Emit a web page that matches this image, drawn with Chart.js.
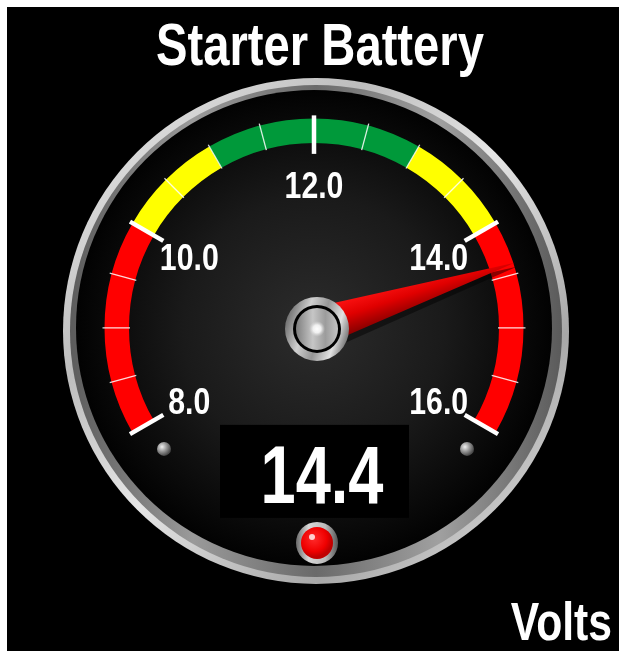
<!DOCTYPE html>
<html>
<head>
<meta charset="utf-8">
<title>Starter Battery</title>
<script src="https://cdn.jsdelivr.net/npm/chart.js@4.4.1/dist/chart.umd.min.js"></script>
<style>
  html, body { margin: 0; padding: 0; background: #fff; }
  #gauge { display: block; }
</style>
</head>
<body>
<canvas id="gauge" width="619" height="651"></canvas>
<script>
// gauge content
const gaugeTitle = 'Starter Battery';
const unitLabel = 'Volts';
const zoneLimits = [8, 10, 11, 13, 14, 16];
const zoneColors = ['#ff0000', '#ffff00', '#00993a', '#ffff00', '#ff0000'];
const majorTicks = [8, 10, 12, 14, 16];
const tickLabels = ['8.0', '10.0', '12.0', '14.0', '16.0'];
const minorTicks = [8.5, 9, 9.5, 10.5, 11, 11.5, 12.5, 13, 13.5, 14.5, 15, 15.5];
const reading = 14.4;

const zoneSizes = zoneLimits.slice(1).map((v, i) => v - zoneLimits[i]);
const FONT = '"Liberation Sans", Arial, sans-serif';

// angle (canvas radians) of a value along the coloured band
function valueAngle(chart, v) {
    const arcs = chart.getDatasetMeta(0).data;
    const a0 = arcs[0].startAngle;
    const a1 = arcs[arcs.length - 1].endAngle;
    const lo = zoneLimits[0];
    const hi = zoneLimits[zoneLimits.length - 1];
    return a0 + (v - lo) / (hi - lo) * (a1 - a0);
}

function gaugeCenter(chart) {
    const arc = chart.getDatasetMeta(0).data[0];
    return { x: arc.x, y: arc.y, r: arc.outerRadius, ir: arc.innerRadius };
}

// white, squeezed text
function narrowText(ctx, text, x, y, size, sx, align) {
    ctx.save();
    ctx.translate(x, y);
    ctx.scale(sx, 1);
    ctx.font = 'bold ' + size + 'px ' + FONT;
    ctx.textAlign = align || 'center';
    ctx.textBaseline = 'alphabetic';
    ctx.fillStyle = '#fff';
    ctx.fillText(text, 0, 0);
    ctx.restore();
}

function disc(ctx, x, y, r, fill) {
    ctx.beginPath();
    ctx.arc(x, y, r, 0, Math.PI * 2);
    ctx.fillStyle = fill;
    ctx.fill();
}

function radial(ctx, x, y, r, stops) {
    const g = ctx.createRadialGradient(x, y, 0, x, y, r);
    stops.forEach(s => g.addColorStop(s[0], s[1]));
    return g;
}

function linear(ctx, x0, y0, x1, y1, stops) {
    const g = ctx.createLinearGradient(x0, y0, x1, y1);
    stops.forEach(s => g.addColorStop(s[0], s[1]));
    return g;
}

// background, title and unit
const backdrop = {
    id: 'backdrop',
    beforeDraw(chart) {
        const ctx = chart.ctx;
        ctx.save();
        ctx.fillStyle = '#fff';
        ctx.fillRect(0, 0, chart.width, chart.height);
        ctx.fillStyle = '#000';
        ctx.fillRect(7, 7, chart.width - 7, chart.height - 7);
        ctx.restore();
        narrowText(ctx, gaugeTitle, 320, 65, 59, 0.8);
        narrowText(ctx, unitLabel, 612, 640, 54, 0.79, 'right');
    }
};

// chrome bezel and dial face under the band
const dialFace = {
    id: 'dialFace',
    beforeDatasetsDraw(chart) {
        const ctx = chart.ctx;
        const c = gaugeCenter(chart);
        const bx = c.x + 2, by = c.y + 3;
        ctx.save();
        disc(ctx, bx, by, 253, linear(ctx, bx - 253, by - 253, bx + 253, by + 253,
            [[0, '#f2f2f2'], [0.3, '#bdbdbd'], [0.5, '#e6e6e6'], [0.75, '#a8a8a8'], [1, '#eeeeee']]));
        disc(ctx, bx, by, 246, linear(ctx, bx - 246, by, bx + 246, by,
            [[0, '#5c5c5c'], [0.25, '#9a9a9a'], [0.5, '#6a6a6a'], [0.75, '#a0a0a0'], [1, '#5a5a5a']]));
        disc(ctx, c.x, c.y, 238, radial(ctx, c.x, c.y, 238,
            [[0, '#2c2c2c'], [0.55, '#1a1a1a'], [1, '#020202']]));
        ctx.restore();
    }
};

// ticks, labels, readout, needle and hub over the band
const dialParts = {
    id: 'dialParts',
    afterDatasetsDraw(chart) {
        const ctx = chart.ctx;
        const c = gaugeCenter(chart);
        ctx.save();

        // minor ticks
        ctx.strokeStyle = 'rgba(255,255,255,0.85)';
        ctx.lineWidth = 1.3;
        minorTicks.forEach(v => {
            const a = valueAngle(chart, v);
            ctx.beginPath();
            ctx.moveTo(c.x + Math.cos(a) * (c.ir - 1), c.y + Math.sin(a) * (c.ir - 1));
            ctx.lineTo(c.x + Math.cos(a) * (c.r + 2), c.y + Math.sin(a) * (c.r + 2));
            ctx.stroke();
        });

        // major ticks and their labels
        ctx.strokeStyle = '#fff';
        ctx.lineWidth = 4.5;
        majorTicks.forEach((v, i) => {
            const a = valueAngle(chart, v);
            ctx.beginPath();
            ctx.moveTo(c.x + Math.cos(a) * (c.ir - 11), c.y + Math.sin(a) * (c.ir - 11));
            ctx.lineTo(c.x + Math.cos(a) * (c.r + 3), c.y + Math.sin(a) * (c.r + 3));
            ctx.stroke();
            const lx = c.x + Math.cos(a) * 144;
            const ly = c.y + Math.sin(a) * 144;
            narrowText(ctx, tickLabels[i], lx, ly + 14, 36, 0.84);
        });

        // mounting screws
        [[-150, 121], [153, 121]].forEach(p => {
            const sx = c.x + p[0], sy = c.y + p[1];
            disc(ctx, sx, sy, 7, radial(ctx, sx - 2, sy - 2, 9,
                [[0, '#f0f0f0'], [0.5, '#9a9a9a'], [1, '#4a4a4a']]));
        });

        // digital readout
        ctx.fillStyle = '#000';
        ctx.fillRect(c.x - 94, c.y + 97, 189, 93);
        narrowText(ctx, reading.toFixed(1), c.x + 8, c.y + 175, 81, 0.78);

        // warning lamp
        const lx = c.x + 3, ly = c.y + 215;
        disc(ctx, lx, ly, 21, linear(ctx, lx - 21, ly, lx + 21, ly,
            [[0, '#6a6a6a'], [0.3, '#d8d8d8'], [0.7, '#bbbbbb'], [1, '#555555']]));
        disc(ctx, lx, ly, 16, radial(ctx, lx - 3, ly - 4, 18,
            [[0, '#ff2a2a'], [0.7, '#f00000'], [1, '#c00000']]));
        disc(ctx, lx - 5, ly - 6, 3, 'rgba(255,255,255,0.8)');

        // needle
        const na = valueAngle(chart, reading);
        const tipR = 211, half = 20;
        const px = -Math.sin(na), py = Math.cos(na);
        const tx = c.x + Math.cos(na) * tipR, ty = c.y + Math.sin(na) * tipR;
        ctx.beginPath();
        ctx.moveTo(c.x + px * (half + 2) + 2, c.y + py * (half + 2) + 4);
        ctx.lineTo(tx + 2, ty + 4);
        ctx.lineTo(c.x - px * half + 2, c.y - py * half + 4);
        ctx.closePath();
        ctx.fillStyle = 'rgba(0,0,0,0.45)';
        ctx.fill();
        ctx.beginPath();
        ctx.moveTo(c.x + px * half, c.y + py * half);
        ctx.lineTo(tx, ty);
        ctx.lineTo(c.x - px * half, c.y - py * half);
        ctx.closePath();
        ctx.fillStyle = linear(ctx, c.x - px * half, c.y - py * half, c.x + px * half, c.y + py * half,
            [[0, '#ff1414'], [0.45, '#e00000'], [1, '#7a0000']]);
        ctx.fill();

        // hub
        const hx = c.x + 3, hy = c.y + 1;
        disc(ctx, hx, hy, 32, linear(ctx, hx - 32, hy - 10, hx + 32, hy + 10,
            [[0, '#6a6a6a'], [0.3, '#d0d0d0'], [0.55, '#959595'], [0.8, '#e2e2e2'], [1, '#6a6a6a']]));
        disc(ctx, hx, hy, 24, '#000');
        disc(ctx, hx, hy, 21, linear(ctx, hx - 21, hy, hx + 21, hy,
            [[0, '#7e7e7e'], [0.4, '#c6c6c6'], [0.7, '#9c9c9c'], [1, '#c4c4c4']]));
        disc(ctx, hx, hy, 8, radial(ctx, hx, hy, 8,
            [[0, '#ffffff'], [0.5, '#f0f0f0'], [1, 'rgba(210,210,210,0)']]));

        ctx.restore();
    }
};

const gaugeChart = new Chart(document.getElementById('gauge').getContext('2d'), {
    type: 'doughnut',
    data: {
        labels: zoneColors.map((col, i) => zoneLimits[i] + '-' + zoneLimits[i + 1]),
        datasets: [{
            data: zoneSizes,
            backgroundColor: zoneColors,
            borderWidth: 0
        }]
    },
    options: {
        responsive: false,
        animation: false,
        events: [],
        rotation: -120,
        circumference: 240,
        radius: 209.5,
        cutout: '88.3%',
        layout: { padding: { left: 9, right: 0, top: 0, bottom: 100 } },
        plugins: {
            legend: { display: false },
            tooltip: { enabled: false },
            title: { display: false }
        }
    },
    plugins: [backdrop, dialFace, dialParts]
});
</script>
</body>
</html>
